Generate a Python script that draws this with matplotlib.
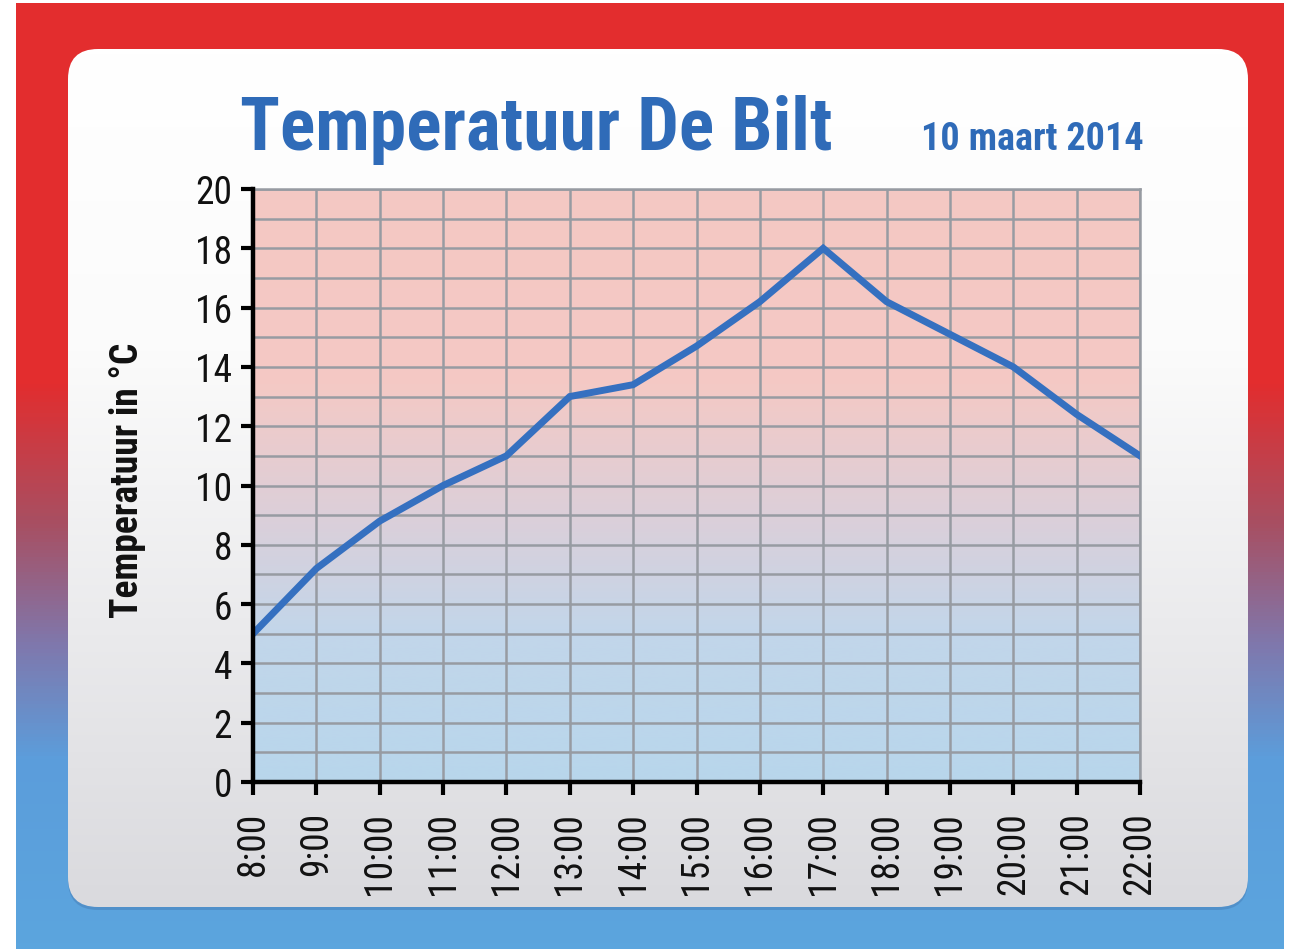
import matplotlib
matplotlib.use("Agg")
import matplotlib.pyplot as plt
import numpy as np
from matplotlib.patches import FancyBboxPatch
from matplotlib.colors import LinearSegmentedColormap
from matplotlib.ticker import MultipleLocator

# data
hours = [8, 9, 10, 11, 12, 13, 14, 15, 16, 17, 18, 19, 20, 21, 22]
hour_labels = ["8:00", "9:00", "10:00", "11:00", "12:00", "13:00", "14:00", "15:00",
               "16:00", "17:00", "18:00", "19:00", "20:00", "21:00", "22:00"]
temps = [5.0, 7.2, 8.8, 10.0, 11.0, 13.0, 13.4, 14.7, 16.2, 18.0, 16.2, 15.1, 14.0, 12.4, 11.0]
y_ticks = [0, 2, 4, 6, 8, 10, 12, 14, 16, 18, 20]

title = "Temperatuur De Bilt"
subtitle = "10 maart 2014"
ylabel = "Temperatuur in °C"

narrow = ["Roboto Condensed", "Archivo Narrow", "Liberation Sans", "DejaVu Sans"]
blue_txt = "#2f6bb8"

W, H = 1289, 953
fig = plt.figure(figsize=(W / 100, H / 100), dpi=100, facecolor="white")

# background layer in pixel coords
bg = fig.add_axes([0, 0, 1, 1])
bg.set_xlim(0, W)
bg.set_ylim(H, 0)
bg.axis("off")

# outer red -> blue frame
outer_cmap = LinearSegmentedColormap.from_list(
    "outer", [(0, "#e32d2e"), (0.40, "#e32d2e"), (0.55, "#a84f62"),
              (0.68, "#7f78ad"), (0.80, "#5c9ddb"), (1, "#5ba5de")])
g = np.linspace(0, 1, 256).reshape(-1, 1)
bg.imshow(g, cmap=outer_cmap, extent=[16, 1284, 950, 4], aspect="auto",
          interpolation="bicubic", zorder=0)

# card shadow + card with white -> grey gradient
shadow = FancyBboxPatch((68, 53), 1180, 858, boxstyle="round,pad=0,rounding_size=30",
                        facecolor="#3d6fa8", edgecolor="none", alpha=0.35, zorder=1)
bg.add_patch(shadow)
card = FancyBboxPatch((68, 50), 1180, 858, boxstyle="round,pad=0,rounding_size=30",
                      facecolor="none", edgecolor="none", zorder=2)
bg.add_patch(card)
card_cmap = LinearSegmentedColormap.from_list(
    "card", [(0, "#ffffff"), (0.35, "#fbfbfb"), (1, "#dadade")])
im = bg.imshow(g, cmap=card_cmap, extent=[68, 1248, 908, 50], aspect="auto",
               interpolation="bicubic", zorder=2)
im.set_clip_path(card)

# titles
fig.text(240 / W, 1 - 150 / H, title, fontsize=53, fontweight="bold",
         color=blue_txt, family=narrow, ha="left", va="baseline")
fig.text(1144 / W, 1 - 150 / H, subtitle, fontsize=27.5, fontweight="bold",
         color=blue_txt, family=narrow, ha="right", va="baseline")
fig.text(128 / W, 1 - 480 / H, ylabel, fontsize=27, fontweight="bold",
         color="#111111", family=narrow, rotation=90, ha="center", va="center")

# main plot
ax = fig.add_axes([253 / W, (H - 783) / H, (1140 - 253) / W, (783 - 190) / H])
plot_cmap = LinearSegmentedColormap.from_list(
    "plotbg", [(0, "#f5c8c3"), (0.33, "#f4c9c5"), (0.55, "#dccfd9"),
               (0.75, "#c2d6ea"), (1, "#b8d6ec")])
ax.imshow(g, cmap=plot_cmap, extent=[hours[0], hours[-1], 0, 20], origin="upper",
          aspect="auto", interpolation="bicubic", zorder=0)

ax.plot(hours, temps, color="#3570c0", linewidth=5, solid_joinstyle="miter", zorder=3)

ax.set_xlim(hours[0], hours[-1])
ax.set_ylim(0, 20)
ax.set_xticks(hours)
ax.set_xticklabels(hour_labels, rotation=90, family=narrow, fontsize=27, color="#111111")
ax.set_yticks(y_ticks)
ax.set_yticklabels([str(v) for v in y_ticks], family=narrow, fontsize=27, color="#111111")
ax.yaxis.set_minor_locator(MultipleLocator(1))

ax.set_axisbelow(True)
ax.grid(which="both", color="#979ba2", linewidth=1.8)
ax.tick_params(axis="y", which="major", direction="out", length=9, width=3, pad=6, color="black")
ax.tick_params(axis="y", which="minor", length=0)
ax.tick_params(axis="x", direction="out", length=9, width=3, pad=12, color="black")

for s in ["left", "bottom"]:
    ax.spines[s].set_linewidth(3.2)
    ax.spines[s].set_color("black")
    ax.spines[s].set_zorder(4)
for s in ["top", "right"]:
    ax.spines[s].set_linewidth(1.8)
    ax.spines[s].set_color("#979ba2")
ax.patch.set_alpha(0)

fig.savefig("out.png", dpi=100, facecolor="white")
